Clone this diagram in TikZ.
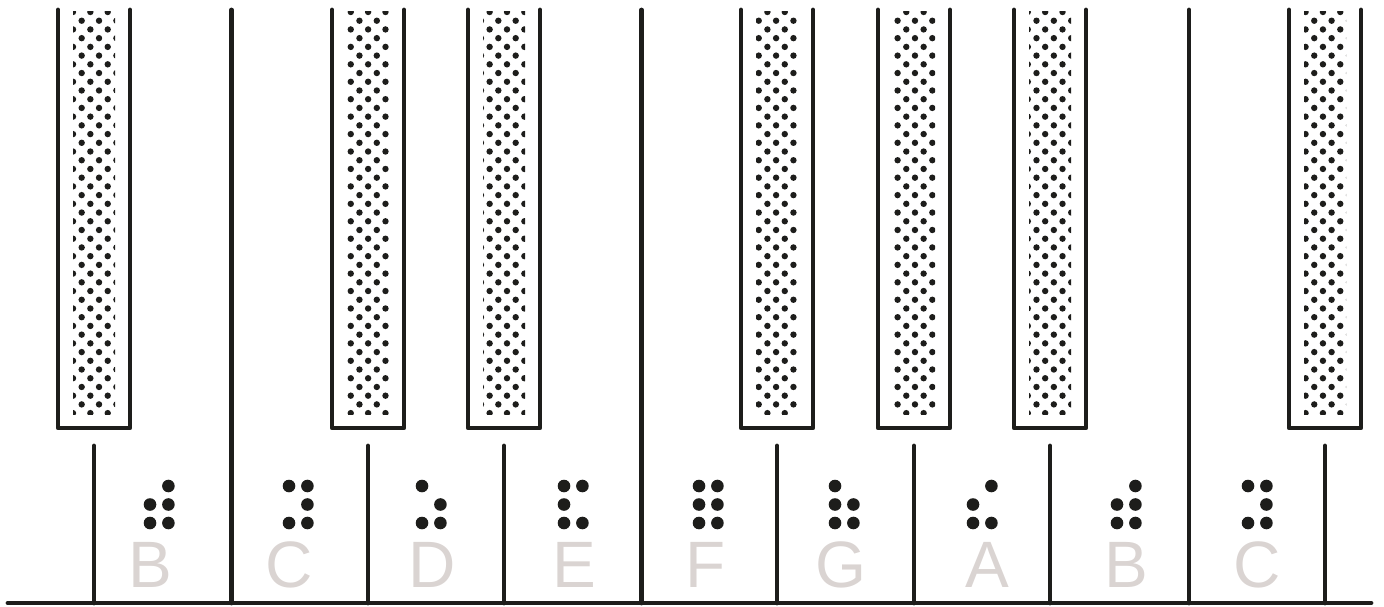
\documentclass[tikz,border=0pt]{standalone}
\usepackage{fontspec}
\setmainfont{Liberation Sans}
\definecolor{ink}{RGB}{29,29,27}
\definecolor{lettergrey}{RGB}{218,212,210}
\tikzset{
  keyline/.style={draw=ink, line width=4.8pt, line cap=round, line join=round},
  brl/.style={fill=ink},
  texdot/.style={fill=ink},
  notename/.style={text=lettergrey, font=\fontsize{65.6}{66}\selectfont, anchor=base, inner sep=0pt}
}
\begin{document}
\begin{tikzpicture}[x=1pt,y=-1pt]
\useasboundingbox (0,0) rectangle (1384,607);
% textured fill of the black keys (one global dot grid)
\foreach \c in {94,368,504,777,914,1050,1325}{
  \begin{scope}
    \clip (\c-21,12) rectangle (\c+21,414);
    \pgfmathsetmacro\xbase{73+17.36*floor((\c-21-73)/17.36)}
    \foreach \k in {0,...,46}{
      \pgfmathsetmacro\yy{12+8.72*\k}
      \pgfmathsetmacro\off{8.68*mod(\k,2)}
      \foreach \j in {-1,0,1,2,3}{
        \fill[texdot] ({\xbase+\off+17.36*\j},\yy) circle[radius=3.2pt];
      }
    }
  \end{scope}
}
% black key outlines and the short lines below them
\foreach \c in {94,368,504,777,914,1050,1325}{
  \draw[keyline] (\c-36,10) -- (\c-36,428) -- (\c+36,428) -- (\c+36,10);
  \draw[keyline] (\c,446) -- (\c,603);
}
% full-height separators
\foreach \x in {231.5,641.5,1189}{
  \draw[keyline] (\x,10) -- (\x,603);
}
% base line
\coordinate (baseL) at (8,603);
\coordinate (baseR) at (1371,603);
\draw[keyline] (baseL) -- (baseR);
% braille cells
\foreach \x/\a/\b/\cc/\d/\e/\f in {150/0/1/1/1/1/1, 289/1/1/0/1/1/1, 422/1/0/0/1/1/1, 564/1/1/1/0/1/1, 699/1/1/1/1/1/1, 835/1/0/1/1/1/1, 973/0/1/1/0/1/1, 1117/0/1/1/1/1/1, 1248/1/1/0/1/1/1}{
  \ifnum\a=1 \fill[brl] (\x,486) circle[radius=6.3pt];\fi
  \ifnum\b=1 \fill[brl] (\x+18.4,486) circle[radius=6.3pt];\fi
  \ifnum\cc=1 \fill[brl] (\x,504.5) circle[radius=6.3pt];\fi
  \ifnum\d=1 \fill[brl] (\x+18.4,504.5) circle[radius=6.3pt];\fi
  \ifnum\e=1 \fill[brl] (\x,523) circle[radius=6.3pt];\fi
  \ifnum\f=1 \fill[brl] (\x+18.4,523) circle[radius=6.3pt];\fi
}
% note names
\node[notename] (nB1) at (150,587) {B};
\node[notename] (nC1) at (289,587) {C};
\node[notename] (nD) at (432,587) {D};
\node[notename] (nE) at (574,587) {E};
\node[notename] (nF) at (706,587) {F};
\node[notename] (nG) at (841,587) {G};
\node[notename] (nA) at (987,587) {A};
\node[notename] (nB2) at (1126,587) {B};
\node[notename] (nC2) at (1257,587) {C};
\end{tikzpicture}
\end{document}
